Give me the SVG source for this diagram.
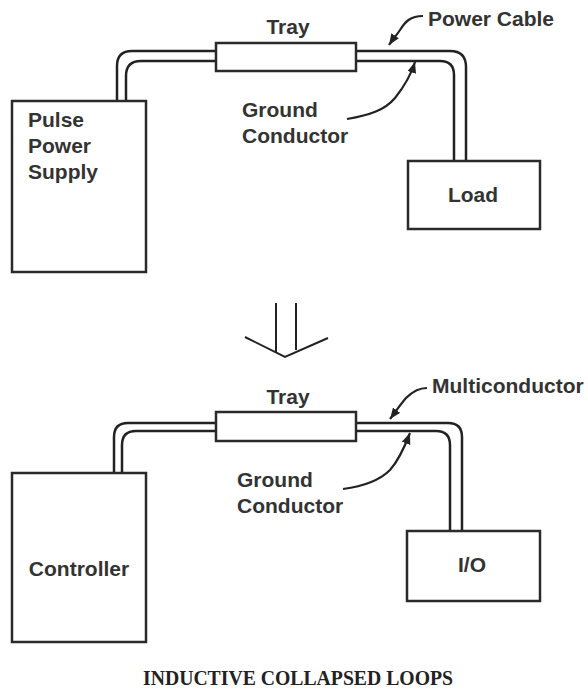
<svg xmlns="http://www.w3.org/2000/svg" width="588" height="688" viewBox="0 0 588 688">
<style>
.box{fill:#fff;stroke:#2a2a2a;stroke-width:2.5}
.wire{fill:none;stroke:#222;stroke-width:2.5}
.arr{fill:none;stroke:#222;stroke-width:2.2;marker-end:url(#ah)}
.lbl{font-family:"Liberation Sans",Arial,sans-serif;font-weight:bold;font-size:21px;fill:#333}
.cap{font-family:"Liberation Serif","Times New Roman",serif;font-weight:bold;font-size:20px;fill:#222}
.thin{fill:none;stroke:#222;stroke-width:2}
</style>
<defs>
<marker id="ah" markerUnits="userSpaceOnUse" markerWidth="12" markerHeight="10" refX="11" refY="4.5" orient="auto">
<path d="M0,0 L11,4.5 L0,9 z" fill="#222"/>
</marker>
</defs>
<rect width="588" height="688" fill="#fff"/>
<g id="connectors">
<path class="wire" d="M117,101 V66 Q117,51 132,51 H216"/>
<path class="wire" d="M126,101 V76 Q126,61 141,61 H216"/>
<path class="wire" d="M356,51 H450 Q466,51 466,67 V161"/>
<path class="wire" d="M356,61 H440 Q454,61 454,75 V161"/>
<path class="wire" d="M114,473 V437 Q114,423 128,423 H216"/>
<path class="wire" d="M122,473 V445 Q122,431 136,431 H216"/>
<path class="wire" d="M356,423 H448 Q462,423 462,437 V531"/>
<path class="wire" d="M356,431 H436 Q450,431 450,445 V531"/>
<path class="arr" d="M423,16 C410,16 405,22 400,30 C396,36 393,39 389,45"/>
<path class="arr" d="M347,119 C370,115 385,110 395,98 C403,88 410,78 415,62"/>
<path class="arr" d="M427,388 C418,388 412,392 406,398 C400,405 396,411 390,419"/>
<path class="arr" d="M343,489 C366,486 380,480 390,470 C399,460 405,446 410,433"/>
</g>
<g id="supply">
<rect class="box" x="12" y="101" width="134" height="171"/>
<text class="lbl" x="28" y="127">Pulse</text>
<text class="lbl" x="28" y="153">Power</text>
<text class="lbl" x="28" y="179">Supply</text>
</g>
<g id="tray1">
<rect class="box" x="216" y="43" width="140" height="28"/>
<text class="lbl" x="288" y="34" text-anchor="middle">Tray</text>
</g>
<g id="load">
<rect class="box" x="408" y="161" width="132" height="68"/>
<text class="lbl" x="473" y="202" text-anchor="middle">Load</text>
</g>
<g id="label-power-cable">
<text class="lbl" x="428" y="26">Power Cable</text>
</g>
<g id="label-ground1">
<text class="lbl" x="242" y="117">Ground</text>
<text class="lbl" x="242" y="143">Conductor</text>
</g>
<g id="down-arrow">
<line class="thin" x1="276" y1="303" x2="276" y2="352"/>
<line class="thin" x1="296" y1="303" x2="296" y2="350"/>
<polyline class="thin" points="245,337 285,357 328,338"/>
</g>
<g id="controller">
<rect class="box" x="12" y="473" width="134" height="169"/>
<text class="lbl" x="79" y="576" text-anchor="middle">Controller</text>
</g>
<g id="tray2">
<rect class="box" x="216" y="412" width="140" height="29"/>
<text class="lbl" x="288" y="404" text-anchor="middle">Tray</text>
</g>
<g id="io">
<rect class="box" x="407" y="531" width="133" height="70"/>
<text class="lbl" x="472" y="572" text-anchor="middle">I/O</text>
</g>
<g id="label-multiconductor">
<text class="lbl" x="432" y="393">Multiconductor</text>
</g>
<g id="label-ground2">
<text class="lbl" x="237" y="487">Ground</text>
<text class="lbl" x="237" y="513">Conductor</text>
</g>
<g id="caption">
<text class="cap" x="143" y="685" textLength="310" lengthAdjust="spacingAndGlyphs">INDUCTIVE COLLAPSED LOOPS</text>
</g>
</svg>
